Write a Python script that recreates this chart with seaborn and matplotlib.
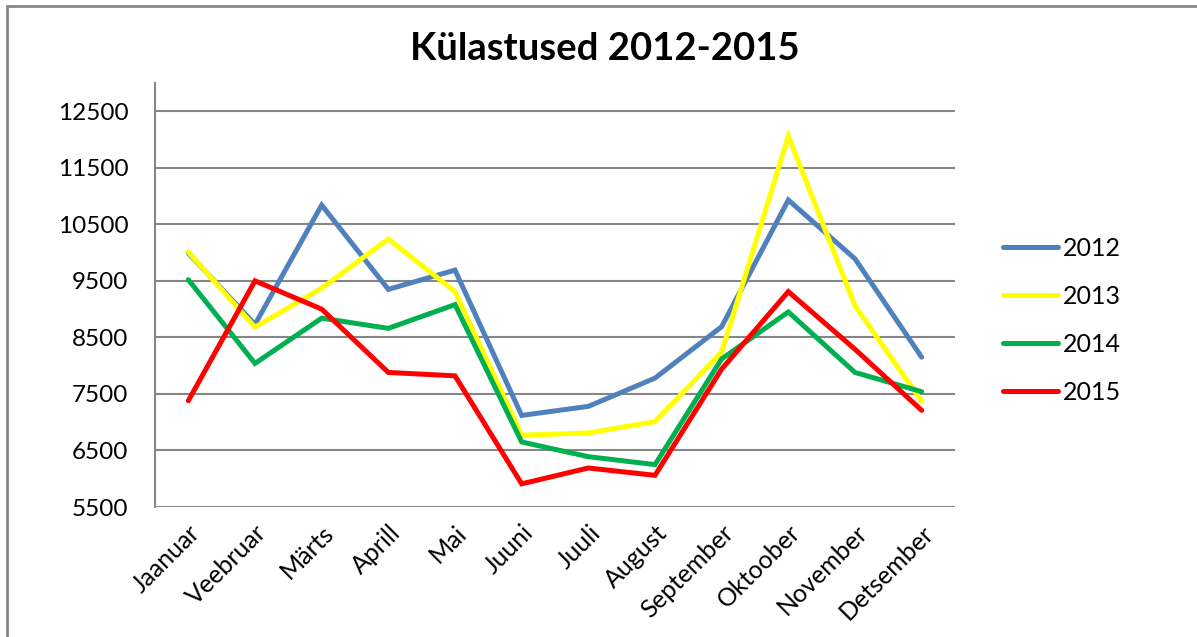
import matplotlib
matplotlib.use("Agg")
import matplotlib.pyplot as plt
import pandas as pd
import seaborn as sns

MONTHS = ["Jaanuar", "Veebruar", "Märts", "Aprill", "Mai", "Juuni",
          "Juuli", "August", "September", "Oktoober", "November", "Detsember"]
YEARS = ["2012", "2013", "2014", "2015"]

visits_2012 = [9990, 8730, 10840, 9350, 9690, 7120, 7280, 7780, 8690, 10930, 9890, 8150]
visits_2013 = [10010, 8680, 9370, 10240, 9310, 6770, 6810, 7010, 8240, 12060, 9060, 7370]
visits_2014 = [9520, 8040, 8840, 8660, 9080, 6650, 6390, 6250, 8120, 8950, 7880, 7540]
visits_2015 = [7380, 9500, 9000, 7880, 7820, 5910, 6190, 6060, 7940, 9310, 8290, 7210]

COLORS = {"2012": "#4F81BD", "2013": "#FFFF00", "2014": "#00B050", "2015": "#FF0000"}

series = {"2012": visits_2012, "2013": visits_2013, "2014": visits_2014, "2015": visits_2015}
rows = []
for year in YEARS:
    for i, month in enumerate(MONTHS):
        rows.append({"month": month, "idx": i, "year": year, "visits": series[year][i]})
df = pd.DataFrame(rows)

sns.set_style("white", {"text.color": "black", "xtick.color": "black",
                        "ytick.color": "black"})
plt.rcParams["font.family"] = ["Lato", "DejaVu Sans"]

fig = plt.figure(figsize=(11.97, 6.37), dpi=100)
ax = fig.add_axes([155 / 1197, 1 - 507 / 637, 800 / 1197, 424 / 637])

sns.lineplot(data=df, x="idx", y="visits", hue="year", palette=COLORS,
             hue_order=YEARS, linewidth=3.6, ax=ax, sort=False,
             solid_capstyle="round", solid_joinstyle="miter")

ax.set_xlim(-0.5, 11.5)
ax.set_ylim(5500, 13000)
ax.set_yticks(range(5500, 13000, 1000))
ax.set_yticklabels([str(v) for v in range(5500, 13000, 1000)], fontsize=17.5)
ax.set_xticks(range(len(MONTHS)))
ax.set_xticklabels(MONTHS, rotation=45, ha="right", rotation_mode="anchor", fontsize=18)
ax.tick_params(axis="y", length=0, pad=19, labelcolor="black")
ax.tick_params(axis="x", length=0, pad=10, labelcolor="black")

ax.yaxis.grid(True, color="#868686", linewidth=1.5)
ax.set_axisbelow(True)
for side in ["top", "right"]:
    ax.spines[side].set_visible(False)
ax.spines["bottom"].set_visible(False)
ax.spines["left"].set_color("#868686")
ax.spines["left"].set_linewidth(1.5)
ax.set_xlabel("")
ax.set_ylabel("")

handles, labels = ax.get_legend_handles_labels()
leg = ax.legend(handles, labels, loc="center left", bbox_to_anchor=(1.045, 0.44),
                frameon=False, fontsize=18, handlelength=2.2, handletextpad=0.16,
                labelspacing=1.0, borderpad=0.0)
for t in leg.get_texts():
    t.set_color("black")

fig.text(0.505, 1 - 60 / 637, "Külastused 2012-2015", ha="center", va="baseline",
         fontsize=27.5, fontweight="bold", color="black")

# outer chart border (top and left visible)
fig.add_artist(plt.Line2D([7 / 1197, 7 / 1197], [0, 1 - 6 / 637], color="#868686",
                          linewidth=2, transform=fig.transFigure))
fig.add_artist(plt.Line2D([7 / 1197, 1], [1 - 6 / 637, 1 - 6 / 637], color="#868686",
                          linewidth=2, transform=fig.transFigure))

fig.savefig("out.png", dpi=100)
